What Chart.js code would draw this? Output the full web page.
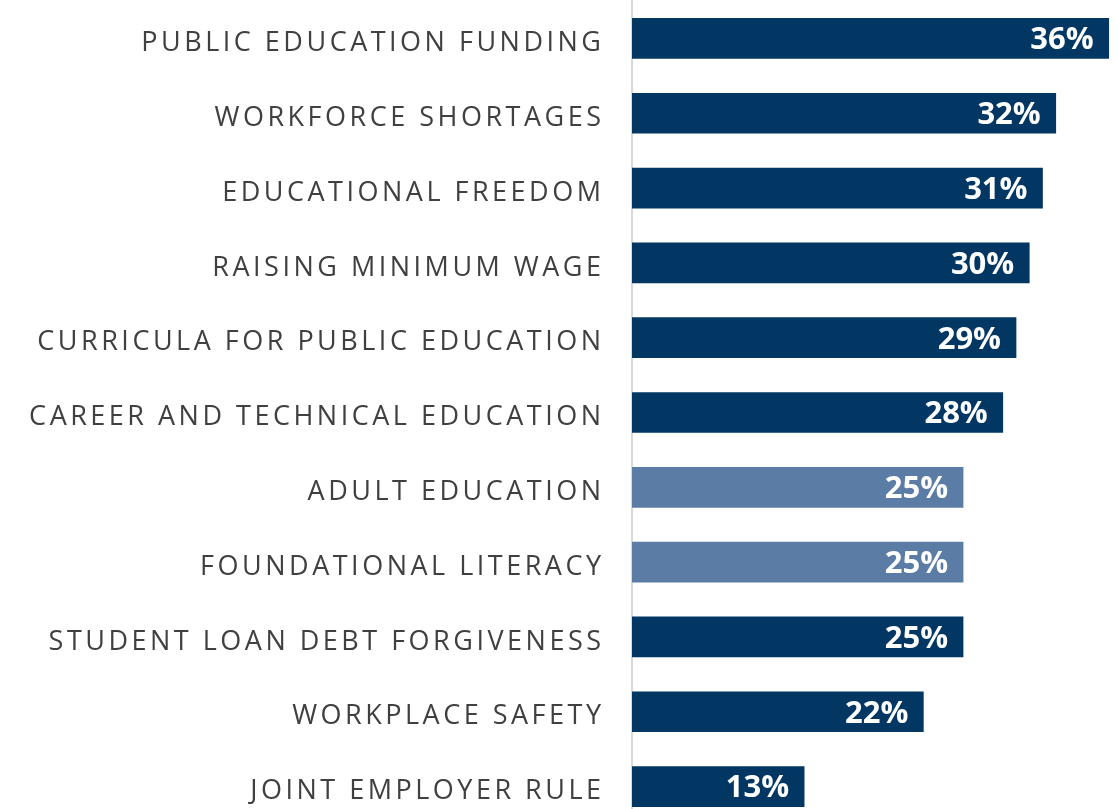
<!DOCTYPE html>
<html>
<head>
<meta charset="utf-8">
<script src="https://cdn.jsdelivr.net/npm/chart.js@4"></script>
<style>
  html, body { margin: 0; padding: 0; background: #fff; overflow: hidden; }
  #wrap { position: relative; width: 1118px; height: 824px; }
</style>
</head>
<body>
<div id="wrap"><canvas id="myChart"></canvas></div>
<script>
let canva = document.querySelector('#myChart')

const labels = [
  'PUBLIC EDUCATION FUNDING',
  'WORKFORCE SHORTAGES',
  'EDUCATIONAL FREEDOM',
  'RAISING MINIMUM WAGE',
  'CURRICULA FOR PUBLIC EDUCATION',
  'CAREER AND TECHNICAL EDUCATION',
  'ADULT EDUCATION',
  'FOUNDATIONAL LITERACY',
  'STUDENT LOAN DEBT FORGIVENESS',
  'WORKPLACE SAFETY',
  'JOINT EMPLOYER RULE'
]
const data_numbers = [36, 32, 31, 30, 29, 28, 25, 25, 25, 22, 13]
const highlighted = [false, false, false, false, false, false, true, true, false, false, false]

const dark = '#023763'
const light = '#5b7ca5'

// spaced capitals for the category labels
const spacing = {
  id: 'spacing',
  beforeDraw(chart) {
    chart.ctx.letterSpacing = '3.5px'
  }
}

// white percent labels inside the bar ends
const valueLabels = {
  id: 'valueLabels',
  afterDatasetsDraw(chart) {
    const ctx = chart.ctx
    ctx.save()
    ctx.letterSpacing = '0px'
    ctx.fillStyle = '#ffffff'
    ctx.font = 'bold 31px "Open Sans"'
    ctx.textAlign = 'right'
    ctx.textBaseline = 'middle'
    chart.getDatasetMeta(0).data.forEach((bar, i) => {
      ctx.fillText(data_numbers[i] + '%', bar.x - 15, bar.y + 2)
    })
    ctx.restore()
  }
}

const data = {
  labels: labels,
  datasets: [{
    data: data_numbers,
    backgroundColor: highlighted.map(h => h ? light : dark),
    borderWidth: 0,
    barThickness: 40
  }]
}

const config = {
  type: 'bar',
  data: data,
  options: {
    indexAxis: 'y',
    responsive: true,
    maintainAspectRatio: false,
    animation: false,
    layout: { padding: { top: 1, right: 0, bottom: 0, left: 0 } },
    plugins: {
      legend: { display: false },
      tooltip: { enabled: false }
    },
    scales: {
      x: {
        min: 0,
        max: 36.7,
        display: false
      },
      y: {
        afterFit(scale) {
          scale.width = 632
          scale.paddingTop = 0
          scale.paddingBottom = 0
        },
        grid: { display: false, drawTicks: false },
        border: { display: true, color: '#d9d9d9', width: 2 },
        ticks: {
          padding: 27.5,
          labelOffset: 5,
          color: '#404040',
          font: { family: '"Open Sans"', size: 27 }
        }
      }
    }
  },
  plugins: [spacing, valueLabels]
}

new Chart(canva, config)
</script>
</body>
</html>
